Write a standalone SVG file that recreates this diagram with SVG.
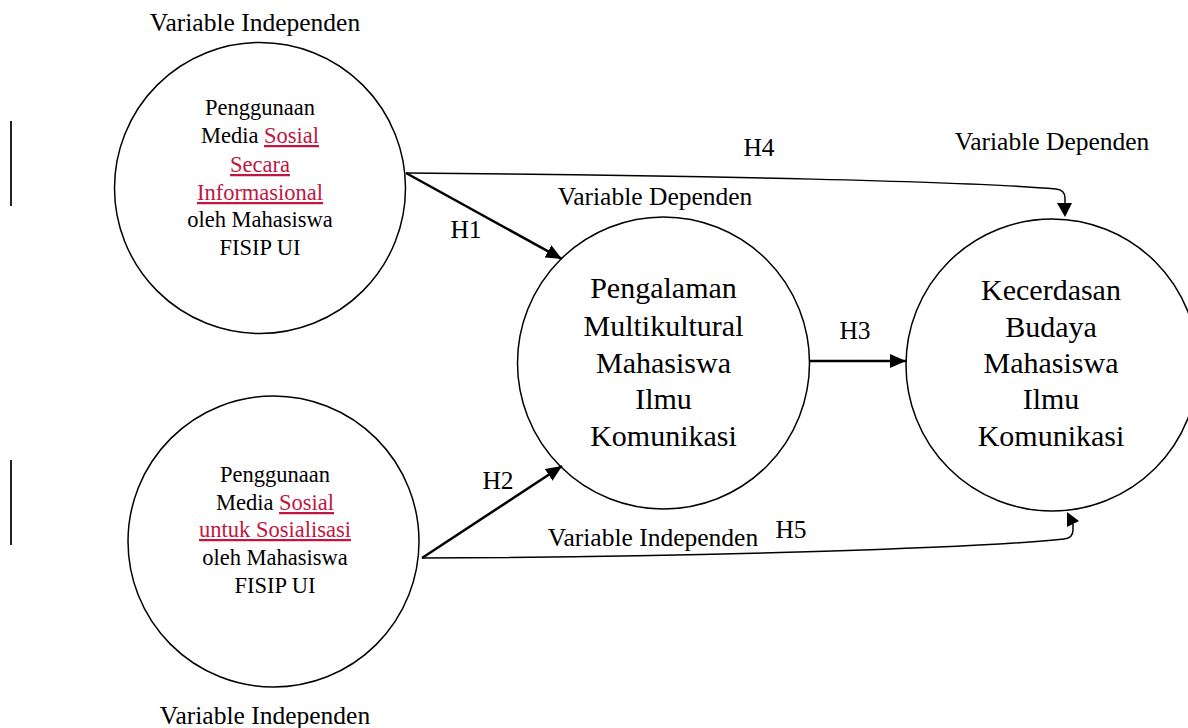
<svg xmlns="http://www.w3.org/2000/svg" width="1188" height="728" viewBox="0 0 1188 728">
<style>
text{font-family:"Liberation Serif","Times New Roman",serif;fill:#000;text-anchor:middle}
.lbl{font-size:25.5px}
.sm{font-size:22.5px}
.big{font-size:30px}
.red{fill:#C0163F;text-decoration:underline}
.node{fill:#fff;stroke:#000;stroke-width:1.5}
.thick{fill:none;stroke:#000;stroke-width:2.5}
.thin{fill:none;stroke:#000;stroke-width:1.5}
.bar{stroke:#222;stroke-width:2}
</style>
<defs>
<marker id="ah" markerUnits="userSpaceOnUse" markerWidth="18" markerHeight="14" refX="16" refY="7" orient="auto">
<path d="M0,0 L16,7 L0,14 Z" fill="#000"/>
</marker>
</defs>
<rect width="1188" height="728" fill="#fff"/>
<line class="bar" x1="11" y1="121" x2="11" y2="206"/>
<line class="bar" x1="11" y1="460" x2="11" y2="545"/>
<g id="n1">
<circle class="node" cx="260" cy="188" r="145.5"/>
<text class="sm" x="260" y="115">Penggunaan</text>
<text class="sm" x="260" y="143">Media <tspan class="red">Sosial</tspan></text>
<text class="sm" x="260" y="172"><tspan class="red">Secara</tspan></text>
<text class="sm" x="260" y="200"><tspan class="red">Informasional</tspan></text>
<text class="sm" x="260" y="227">oleh Mahasiswa</text>
<text class="sm" x="260" y="255">FISIP UI</text>
</g>
<g id="n2">
<circle class="node" cx="273.5" cy="541.5" r="145.5"/>
<text class="sm" x="275" y="482">Penggunaan</text>
<text class="sm" x="275" y="510">Media <tspan class="red">Sosial</tspan></text>
<text class="sm" x="275" y="537"><tspan class="red">untuk Sosialisasi</tspan></text>
<text class="sm" x="275" y="565">oleh Mahasiswa</text>
<text class="sm" x="275" y="593">FISIP UI</text>
</g>
<g id="n3">
<circle class="node" cx="663.5" cy="363" r="146"/>
<text class="big" x="663.5" y="298">Pengalaman</text>
<text class="big" x="663.5" y="336">Multikultural</text>
<text class="big" x="663.5" y="373">Mahasiswa</text>
<text class="big" x="663.5" y="409">Ilmu</text>
<text class="big" x="663.5" y="446">Komunikasi</text>
</g>
<g id="n4">
<circle class="node" cx="1052" cy="365" r="146"/>
<text class="big" x="1051" y="300">Kecerdasan</text>
<text class="big" x="1051" y="337">Budaya</text>
<text class="big" x="1051" y="373">Mahasiswa</text>
<text class="big" x="1051" y="409">Ilmu</text>
<text class="big" x="1051" y="446">Komunikasi</text>
</g>
<g id="labels">
<text class="lbl" x="255" y="31">Variable Independen</text>
<text class="lbl" x="1052" y="150">Variable Dependen</text>
<text class="lbl" x="655" y="205">Variable Dependen</text>
<text class="lbl" x="265" y="724">Variable Independen</text>
<text class="lbl" x="653" y="546">Variable Independen</text>
<text class="lbl" x="759" y="156">H4</text>
<text class="lbl" x="466" y="238">H1</text>
<text class="lbl" x="855" y="339">H3</text>
<text class="lbl" x="498" y="489">H2</text>
<text class="lbl" x="791" y="538">H5</text>
</g>
<g id="connectors">
<line class="thick" x1="406" y1="173" x2="562" y2="259" marker-end="url(#ah)"/>
<line class="thick" x1="422" y1="558" x2="562" y2="466" marker-end="url(#ah)"/>
<line class="thick" x1="810" y1="361" x2="906" y2="361" marker-end="url(#ah)"/>
<path class="thin" d="M406,173 C700,175 980,182 1056,189 Q1065,190 1065,198 L1065,204"/>
<path d="M1057,203 L1072,203 L1065,217 Z" fill="#000"/>
<path class="thin" d="M422,558 C700,557 980,548 1064,539 Q1073,538 1073,530 L1073,524"/>
<path d="M1067,512 L1079,521 L1067,527 Z" fill="#000"/>
</g>
</svg>
